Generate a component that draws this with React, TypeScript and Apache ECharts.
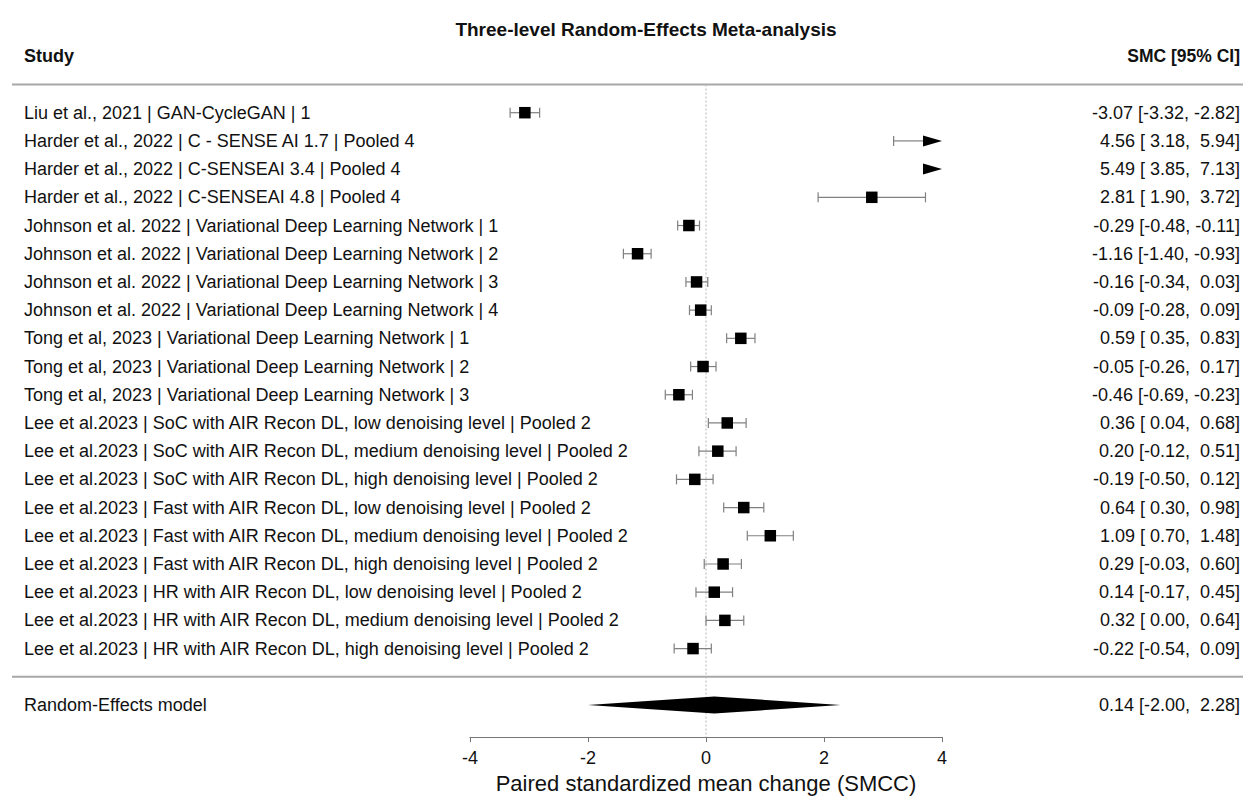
import React, { useEffect, useRef } from "react";
import * as echarts from "echarts";

const studyLabels = [
  "Liu et al., 2021 | GAN-CycleGAN | 1",
  "Harder et al., 2022 | C - SENSE AI 1.7 | Pooled 4",
  "Harder et al., 2022 | C-SENSEAI 3.4 | Pooled 4",
  "Harder et al., 2022 | C-SENSEAI 4.8 | Pooled 4",
  "Johnson et al. 2022 | Variational Deep Learning Network | 1",
  "Johnson et al. 2022 | Variational Deep Learning Network | 2",
  "Johnson et al. 2022 | Variational Deep Learning Network | 3",
  "Johnson et al. 2022 | Variational Deep Learning Network | 4",
  "Tong et al, 2023 | Variational Deep Learning Network | 1",
  "Tong et al, 2023 | Variational Deep Learning Network | 2",
  "Tong et al, 2023 | Variational Deep Learning Network | 3",
  "Lee et al.2023 | SoC with AIR Recon DL, low denoising level | Pooled 2",
  "Lee et al.2023 | SoC with AIR Recon DL, medium denoising level | Pooled 2",
  "Lee et al.2023 | SoC with AIR Recon DL, high denoising level | Pooled 2",
  "Lee et al.2023 | Fast with AIR Recon DL, low denoising level | Pooled 2",
  "Lee et al.2023 | Fast with AIR Recon DL, medium denoising level | Pooled 2",
  "Lee et al.2023 | Fast with AIR Recon DL, high denoising level | Pooled 2",
  "Lee et al.2023 | HR with AIR Recon DL, low denoising level | Pooled 2",
  "Lee et al.2023 | HR with AIR Recon DL, medium denoising level | Pooled 2",
  "Lee et al.2023 | HR with AIR Recon DL, high denoising level | Pooled 2",
];

const estimates = [-3.07, 4.56, 5.49, 2.81, -0.29, -1.16, -0.16, -0.09, 0.59, -0.05, -0.46, 0.36, 0.2, -0.19, 0.64, 1.09, 0.29, 0.14, 0.32, -0.22];
const lowerCI = [-3.32, 3.18, 3.85, 1.9, -0.48, -1.4, -0.34, -0.28, 0.35, -0.26, -0.69, 0.04, -0.12, -0.5, 0.3, 0.7, -0.03, -0.17, 0.0, -0.54];
const upperCI = [-2.82, 5.94, 7.13, 3.72, -0.11, -0.93, 0.03, 0.09, 0.83, 0.17, -0.23, 0.68, 0.51, 0.12, 0.98, 1.48, 0.6, 0.45, 0.64, 0.09];

const pooledLabel = "Random-Effects model";
const pooledEstimate = 0.14;
const pooledLower = -2.0;
const pooledUpper = 2.28;

const xMin = -4;
const xMax = 4;
const xInterval = 2;

const FONT = "'Liberation Sans', Arial, Helvetica, sans-serif";
const LABEL_SIZE = 18;

const pad = (v: number) => (v >= 0 ? "\u00a0" + v.toFixed(2) : v.toFixed(2));
const ciText = (e: number, l: number, u: number) => `${e.toFixed(2)} [${pad(l)}, ${pad(u)}]`;

export default function App() {
  const ref = useRef<HTMLDivElement>(null);

  useEffect(() => {
    if (!ref.current) return;
    const chart = echarts.init(ref.current, undefined, { renderer: "svg" });

    const leftLabels = [...studyLabels, "", pooledLabel];
    const rightLabels = [
      ...studyLabels.map((_, i) => ciText(estimates[i], lowerCI[i], upperCI[i])),
      "",
      ciText(pooledEstimate, pooledLower, pooledUpper),
    ];
    const sepIndex = studyLabels.length;
    const pooledIndex = studyLabels.length + 1;

    const studyData = studyLabels.map((_, i) => [i, estimates[i], lowerCI[i], upperCI[i]]);

    const option: any = {
      animation: false,
      backgroundColor: "#ffffff",
      textStyle: { fontFamily: FONT },
      graphic: [
        {
          type: "text",
          x: 646,
          y: 29,
          style: {
            text: "Three-level Random-Effects Meta-analysis",
            font: `bold 19px ${FONT}`,
            fill: "#111",
            align: "center",
            verticalAlign: "middle",
          },
        },
        {
          type: "text",
          x: 24,
          y: 56,
          style: { text: "Study", font: `bold 18px ${FONT}`, fill: "#111", align: "left", verticalAlign: "middle" },
        },
        {
          type: "text",
          x: 1240,
          y: 56,
          style: { text: "SMC [95% CI]", font: `bold 17.5px ${FONT}`, fill: "#111", align: "right", verticalAlign: "middle" },
        },
      ],
      grid: { left: 470, width: 472, top: 98.6, height: 633.6 },
      xAxis: {
        type: "value",
        min: xMin,
        max: xMax,
        interval: xInterval,
        position: "bottom",
        offset: 18,
        splitLine: { show: false },
        axisLine: { show: true, lineStyle: { color: "#777", width: 1 } },
        axisTick: { show: true, length: 5, lineStyle: { color: "#777" } },
        axisLabel: { fontSize: 18, color: "#111", margin: 12, fontFamily: FONT },
        name: "Paired standardized mean change (SMCC)",
        nameLocation: "middle",
        nameGap: 23,
        nameTextStyle: { fontSize: 22, color: "#111", fontFamily: FONT, verticalAlign: "top" },
      },
      yAxis: [
        {
          type: "category",
          inverse: true,
          position: "left",
          data: leftLabels,
          axisLine: { show: false },
          axisTick: { show: false },
          splitLine: { show: false },
          axisLabel: { interval: 0, align: "left", margin: 446, fontSize: LABEL_SIZE, color: "#111", fontFamily: FONT },
        },
        {
          type: "category",
          inverse: true,
          position: "right",
          data: rightLabels,
          axisLine: { show: false },
          axisTick: { show: false },
          splitLine: { show: false },
          axisLabel: { interval: 0, align: "right", margin: 298, fontSize: LABEL_SIZE, color: "#111", fontFamily: FONT },
        },
      ],
      series: [
        {
          type: "custom",
          name: "frame",
          clip: false,
          silent: true,
          data: [[0, sepIndex]],
          renderItem: (params: any, api: any) => {
            const cs = params.coordSys;
            const band = api.size([0, 1])[1];
            const x0 = api.coord([0, 0])[0];
            const topY = cs.y - band / 2;
            const sepY = api.coord([0, api.value(1)])[1];
            const bottomY = cs.y + cs.height + 18;
            const sepStyle = { stroke: "#a8a8a8", lineWidth: 2 };
            return {
              type: "group",
              children: [
                { type: "line", shape: { x1: 12, y1: topY, x2: 1243, y2: topY }, style: sepStyle },
                { type: "line", shape: { x1: 12, y1: sepY, x2: 1243, y2: sepY }, style: sepStyle },
                {
                  type: "line",
                  shape: { x1: x0, y1: topY, x2: x0, y2: bottomY },
                  style: { stroke: "#b5b5b5", lineWidth: 1, lineDash: [2, 2] },
                },
              ],
            };
          },
        },
        {
          type: "custom",
          name: "studies",
          clip: false,
          encode: { x: [1, 2, 3], y: 0 },
          data: studyData,
          renderItem: (_params: any, api: any) => {
            const idx = api.value(0);
            const est = api.value(1);
            const lo = api.value(2);
            const hi = api.value(3);
            const y = api.coord([0, idx])[1];
            const cx = (v: number) => api.coord([Math.max(xMin, Math.min(xMax, v)), idx])[0];
            const whisker = { stroke: "#808080", lineWidth: 1.2 };
            const capH = 5;
            const arrowLen = 19;
            const arrowHalf = 5.5;
            const children: any[] = [];
            const xl = cx(lo);
            const clippedRight = hi > xMax;
            if (clippedRight) {
              const tip = cx(xMax);
              const base = tip - arrowLen;
              if (xl < base) {
                children.push({ type: "line", shape: { x1: xl, y1: y, x2: base, y2: y }, style: whisker });
              }
              children.push({
                type: "polygon",
                shape: { points: [[base, y - arrowHalf], [tip, y], [base, y + arrowHalf]] },
                style: { fill: "#000" },
              });
            } else {
              const xr = cx(hi);
              children.push({ type: "line", shape: { x1: xl, y1: y, x2: xr, y2: y }, style: whisker });
              children.push({ type: "line", shape: { x1: xr, y1: y - capH, x2: xr, y2: y + capH }, style: whisker });
            }
            if (lo >= xMin && (!clippedRight || xl < cx(xMax) - arrowLen)) {
              children.push({ type: "line", shape: { x1: xl, y1: y - capH, x2: xl, y2: y + capH }, style: whisker });
            }
            if (est >= xMin && est <= xMax) {
              const xe = cx(est);
              const s = 11.5;
              children.push({ type: "rect", shape: { x: xe - s / 2, y: y - s / 2, width: s, height: s }, style: { fill: "#000" } });
            }
            return { type: "group", children };
          },
        },
        {
          type: "custom",
          name: "pooled",
          clip: false,
          encode: { x: [1, 2, 3], y: 0 },
          data: [[pooledIndex, pooledEstimate, pooledLower, pooledUpper]],
          renderItem: (_params: any, api: any) => {
            const idx = api.value(0);
            const y = api.coord([0, idx])[1];
            const xe = api.coord([api.value(1), idx])[0];
            const xl = api.coord([api.value(2), idx])[0];
            const xr = api.coord([api.value(3), idx])[0];
            const h = 8.5;
            return {
              type: "polygon",
              shape: { points: [[xl, y], [xe, y - h], [xr, y], [xe, y + h]] },
              style: { fill: "#000" },
            };
          },
        },
      ],
    };

    chart.setOption(option);
    return () => chart.dispose();
  }, []);

  return (
    <div
      ref={ref}
      style={{ position: "fixed", left: 0, top: 0, width: 1243, height: 799, background: "#fff" }}
    />
  );
}
